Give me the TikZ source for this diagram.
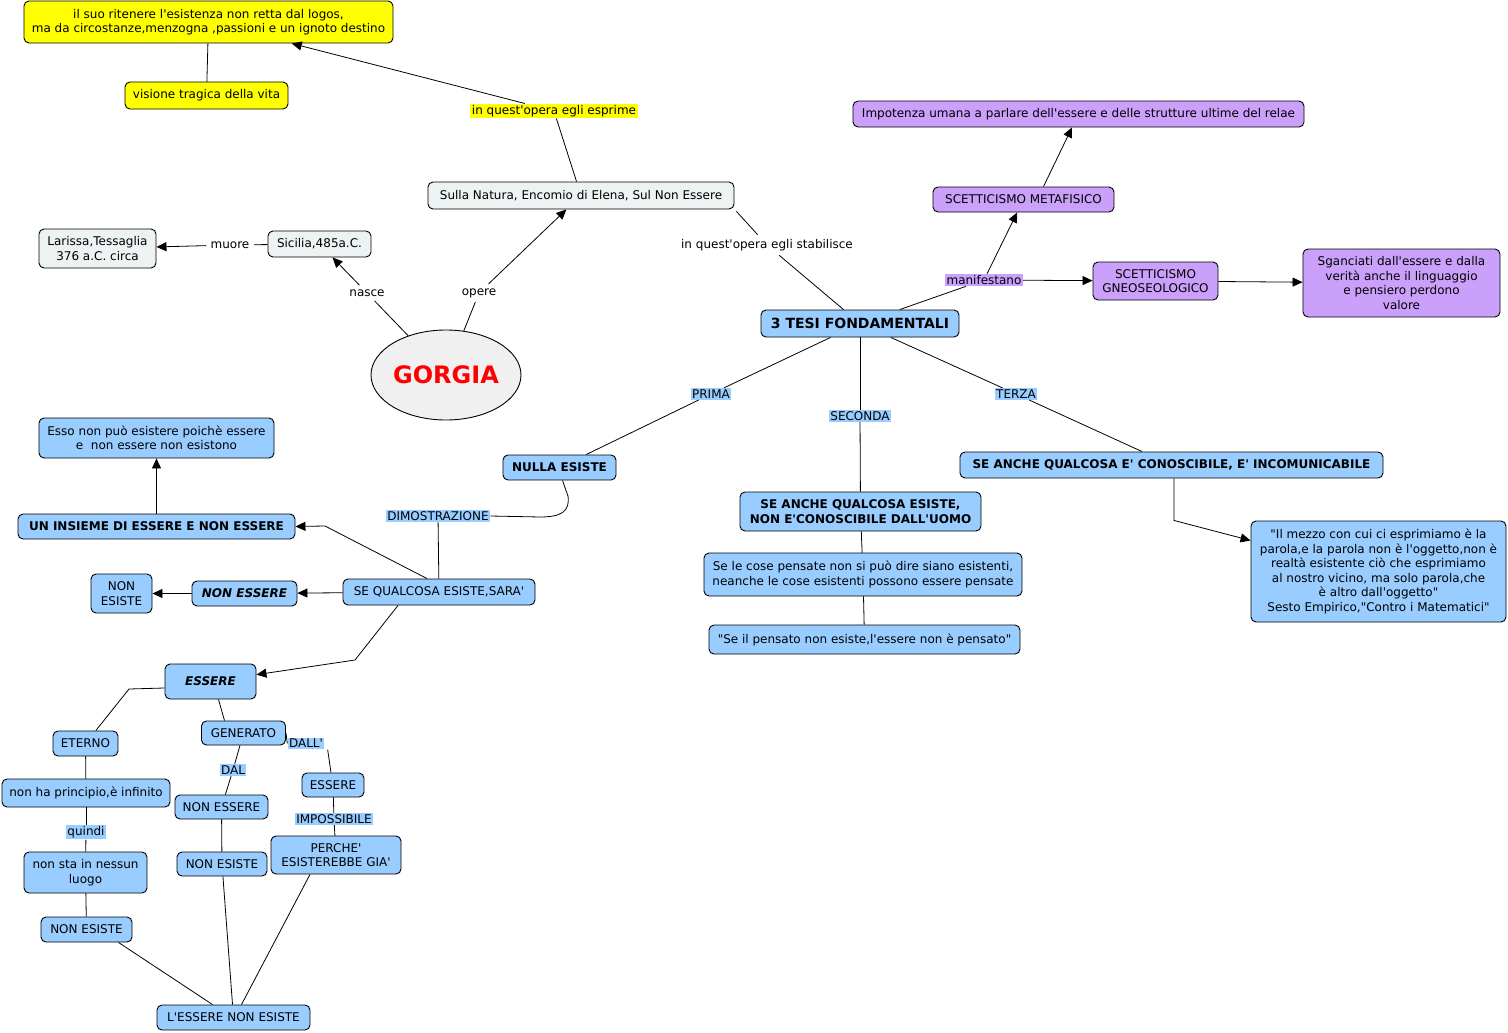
\documentclass[tikz,border=0pt]{standalone}
\usepackage{fontspec}
\setmainfont{DejaVu Sans}[Ligatures=TeXOff]
\usetikzlibrary{arrows.meta,shapes.geometric}
\definecolor{cblue}{RGB}{153,204,255}
\definecolor{cgray}{RGB}{237,242,243}
\definecolor{cpurple}{RGB}{203,160,250}
\definecolor{cyellow}{RGB}{255,255,0}
\definecolor{cell}{RGB}{240,240,240}
\newcommand\myfs{\fontsize{12}{14.5}\selectfont}
\begin{document}
\begin{tikzpicture}[x=1pt,y=-1pt,
  box/.style={draw, rounded corners=5pt, line width=0.9pt, inner sep=2pt, align=center, font=\myfs},
  bl/.style={box, fill=cblue},
  gr/.style={box, fill=cgray},
  pu/.style={box, fill=cpurple},
  ye/.style={box, fill=cyellow},
  bb/.style={bl, font=\myfs\bfseries},
  bi/.style={bl, font=\myfs\bfseries\itshape},
  lbl/.style={inner sep=1.5pt, font=\myfs},
  lblw/.style={lbl, outer sep=3pt},
  lblb/.style={lbl, fill=cblue},
  lblp/.style={lbl, fill=cpurple},
  lbly/.style={lbl, fill=cyellow},
  ln/.style={line width=0.8pt},
  arr/.style={ln, -{Triangle[length=10pt,width=9pt]}}
]
\useasboundingbox[fill=white] (0,0) rectangle (1508,1033);

% top-left yellow
\node[ye, minimum width=369pt, minimum height=42pt] (y1) at (208.5,22) {il suo ritenere l'esistenza non retta dal logos,\\ma da circostanze,menzogna ,passioni e un ignoto destino};
\node[ye, minimum width=163pt, minimum height=27pt] (y2) at (206.5,95.5) {visione tragica della vita};
\node[lbly] (esprime) at (554,111) {in quest'opera egli esprime};

% gray nodes
\node[gr, minimum width=306pt, minimum height=27pt] (sulla) at (581,195.5) {Sulla Natura, Encomio di Elena, Sul Non Essere};
\node[gr, minimum width=103pt, minimum height=26pt] (sicilia) at (319.5,244) {Sicilia,485a.C.};
\node[gr, minimum width=117pt, minimum height=39pt] (larissa) at (97.5,248.5) {Larissa,Tessaglia\\376 a.C. circa};
\node[ellipse, draw, line width=0.9pt, fill=cell, inner sep=0pt, minimum width=150pt, minimum height=90pt, font=\fontsize{24}{28}\selectfont\bfseries, text=red] (gorgia) at (446,375) {GORGIA};

\node[lblw] (nasce) at (367,293) {nasce};
\node[lblw] (opere) at (479,293) {opere};
\node[lblw] (muore) at (230,245) {muore};
\node[lblw] (stab) at (767,245) {in quest'opera egli stabilisce};

% 3 tesi and purple
\node[bl, minimum width=198pt, minimum height=27pt, font=\fontsize{14}{16}\selectfont\bfseries] (tesi) at (860,323.5) {3 TESI FONDAMENTALI};
\node[lblp] (manif) at (984,280) {manifestano};
\node[pu, minimum width=181pt, minimum height=25pt] (sm) at (1023.5,199.5) {SCETTICISMO METAFISICO};
\node[pu, minimum width=451pt, minimum height=26pt] (imp) at (1078.5,114) {Impotenza umana a parlare dell'essere e delle strutture ultime del relae};
\node[pu, minimum width=125pt, minimum height=38pt] (sg) at (1155.5,281) {SCETTICISMO\\GNEOSEOLOGICO};
\node[pu, minimum width=197pt, minimum height=68pt] (sganc) at (1401.5,283) {Sganciati dall'essere e dalla\\verità anche il linguaggio\\e pensiero perdono\\valore};

% three theses
\node[lblb] (prima) at (711,394) {PRIMA};
\node[lblb] (seconda) at (860,416) {SECONDA};
\node[lblb] (terza) at (1016,394) {TERZA};
\node[bb, minimum width=113pt, minimum height=25pt] (nulla) at (559.5,467.5) {NULLA ESISTE};
\node[bb, minimum width=241pt, minimum height=39pt] (saqe) at (860.5,511.5) {SE ANCHE QUALCOSA ESISTE,\\NON E'CONOSCIBILE DALL'UOMO};
\node[bb, minimum width=423pt, minimum height=26pt] (saqc) at (1171.5,465) {SE ANCHE QUALCOSA E' CONOSCIBILE, E' INCOMUNICABILE};
\node[bl, minimum width=255pt, minimum height=101pt] (quote) at (1378.5,571.5) {"Il mezzo con cui ci esprimiamo è la\\parola,e la parola non è l'oggetto,non è\\realtà esistente ciò che esprimiamo\\al nostro vicino, ma solo parola,che\\è altro dall'oggetto"\\Sesto Empirico,"Contro i Matematici"};
\node[bl, minimum width=318pt, minimum height=43pt] (selecose) at (863,574.5) {Se le cose pensate non si può dire siano esistenti,\\neanche le cose esistenti possono essere pensate};
\node[bl, minimum width=311pt, minimum height=29pt] (seil) at (864.5,639.5) {"Se il pensato non esiste,l'essere non è pensato"};

% left branch
\node[lblb] (dimo) at (438,516) {DIMOSTRAZIONE};
\node[bl, minimum width=192pt, minimum height=26pt] (seq) at (439,592) {SE QUALCOSA ESISTE,SARA'};
\node[bb, minimum width=277pt, minimum height=25pt] (insieme) at (156.5,526.5) {UN INSIEME DI ESSERE E NON ESSERE};
\node[bi, minimum width=105pt, minimum height=25pt] (nonessere) at (244.5,593.5) {NON ESSERE};
\node[bl, minimum width=61pt, minimum height=39pt] (nonesisteA) at (121.5,593.5) {NON\\ESISTE};
\node[bl, minimum width=235pt, minimum height=40pt] (esso) at (156.5,438) {Esso non può esistere poichè essere\\e\ \ non essere non esistono};
\node[bi, minimum width=91pt, minimum height=35pt] (essere) at (210.5,681.5) {ESSERE};
\node[bl, minimum width=65pt, minimum height=25pt] (eterno) at (85.5,743.5) {ETERNO};
\node[bl, minimum width=168pt, minimum height=28pt] (nonha) at (86,793) {non ha principio,è infinito};
\node[lblb] (quindi) at (86,832) {quindi};
\node[bl, minimum width=123pt, minimum height=41pt] (nonsta) at (85.5,872.5) {non sta in nessun\\luogo};
\node[bl, minimum width=91pt, minimum height=25pt] (nonesisteB) at (86.5,929.5) {NON ESISTE};
\node[bl, minimum width=153pt, minimum height=25pt] (lessere) at (233.5,1017.5) {L'ESSERE NON ESISTE};
\node[bl, minimum width=84pt, minimum height=24pt] (generato) at (243.5,733) {GENERATO};
\node[lblb] (dal) at (233,770) {DAL};
\node[lblb] (dall) at (306,743.5) {DALL'};
\node[bl, minimum width=93pt, minimum height=24pt] (nonessereB) at (221.5,807) {NON ESSERE};
\node[bl, minimum width=90pt, minimum height=24pt] (nonesisteC) at (222,864) {NON ESISTE};
\node[bl, minimum width=62pt, minimum height=24pt] (essereB) at (333,785) {ESSERE};
\node[lblb] (impos) at (334,819) {IMPOSSIBILE};
\node[bl, minimum width=130pt, minimum height=38pt] (perche) at (336,855) {PERCHE'\\ESISTEREBBE GIA'};

% connectors top
\draw[ln] (y2) -- (y1);
\draw[ln] (sulla) -- (esprime);
\draw[arr] (esprime) -- (y1);
\draw[ln] (gorgia) -- (nasce);
\draw[arr] (nasce) -- (sicilia);
\draw[ln] (gorgia) -- (opere);
\draw[arr] (opere) -- (sulla);
\draw[ln] (sicilia) -- (muore);
\draw[arr] (muore) -- (larissa);
\draw[ln] ([xshift=2pt,yshift=-2pt]sulla.south east) -- (stab);
\draw[ln] (stab) -- (tesi);

% purple
\draw[ln] (tesi) -- (manif);
\draw[arr] (manif) -- (sm);
\draw[arr] (manif) -- (sg);
\draw[arr] ([xshift=20pt]sm.north) -- (imp);
\draw[arr] (sg) -- (sganc);

% theses
\draw[ln] (tesi) -- (prima);
\draw[ln] (prima) -- (nulla);
\draw[ln] (tesi) -- (seconda);
\draw[ln] (seconda) -- (saqe);
\draw[ln] (tesi) -- (terza);
\draw[ln] (terza) -- (saqc);
\draw[arr] ([xshift=2.5pt]saqc.south) -- ++(0,42) -- ([yshift=31pt]quote.west);
\draw[ln] (saqe) -- (selecose);
\draw[ln] (selecose) -- (seil);

% left branch
\draw[ln] ([xshift=3pt]nulla.south) -- (568,496) .. controls (570,511) and (562,517) .. (540,517) -- (dimo.east);
\draw[ln] (dimo) -- (seq);
\draw[arr] ([xshift=-12pt]seq.north) -- (325,526) -- (insieme.east);
\draw[arr] (seq) -- (nonessere);
\draw[arr] (nonessere) -- (nonesisteA);
\draw[arr] (insieme) -- (esso);
\draw[arr] ([xshift=-41pt]seq.south) -- (355,660) -- (essere);
\draw[ln] ([yshift=-6.5pt]essere.west) -- (129,689) -- (eterno);
\draw[ln] ([xshift=8pt]essere.south) -- ([xshift=-19pt]generato.north);
\draw[ln] (eterno) -- (nonha);
\draw[ln] (nonha) -- (quindi);
\draw[ln] (quindi) -- (nonsta);
\draw[ln] (nonsta) -- (nonesisteB);
\draw[ln] (generato) -- (dal);
\draw[ln] (dal) -- (nonessereB);
\draw[ln] (generato.east) -- (dall.west);
\draw[ln] ([xshift=3pt]dall.south east) -- ([xshift=-2pt]essereB.north);
\draw[ln] (essereB) -- (impos);
\draw[ln] (impos) -- (perche);
\draw[ln] (nonessereB) -- (nonesisteC);
\draw[ln] ([xshift=32pt]nonesisteB.south) -- ([xshift=-21pt]lessere.north);
\draw[ln] (nonesisteC) -- (lessere);
\draw[ln] ([xshift=-26pt]perche.south) -- ([xshift=8pt]lessere.north);
\end{tikzpicture}
\end{document}
